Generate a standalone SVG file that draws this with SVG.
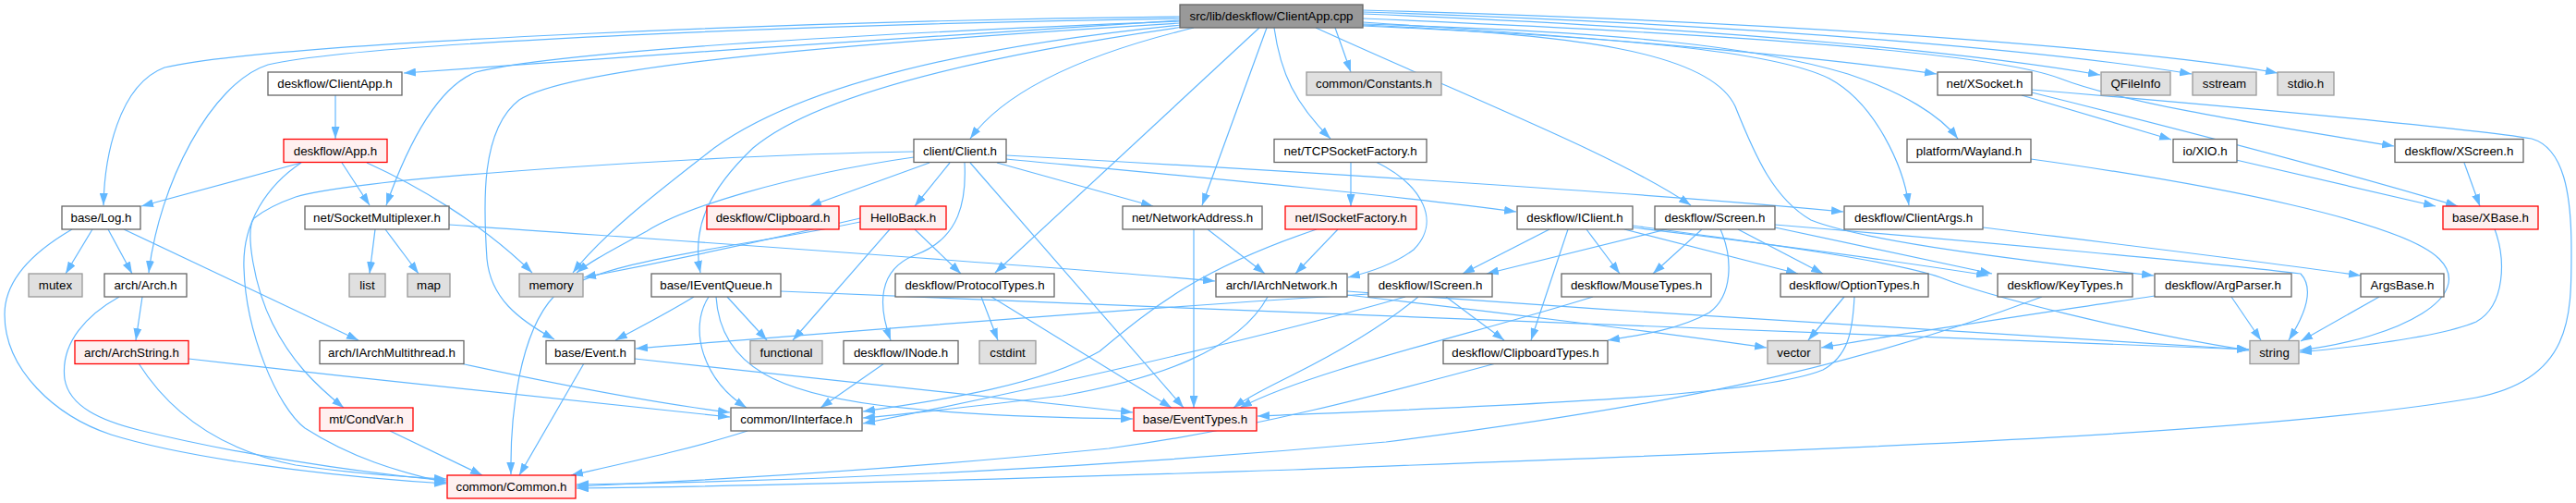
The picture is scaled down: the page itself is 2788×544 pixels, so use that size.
<svg xmlns="http://www.w3.org/2000/svg" width="2788" height="544" viewBox="0 0 2788 544">
<style>
rect{stroke-width:1.3}
.w{fill:#ffffff;stroke:#666666}
.r{fill:#fff0f0;stroke:#ff0000}
.g{fill:#e0e0e0;stroke:#999999}
.k{fill:#999999;stroke:#666666}
text{font-family:"Liberation Sans",Arial,Helvetica,sans-serif;font-size:13.33px;text-anchor:middle;fill:#000000}
#edges path{fill:none;stroke:#63b8ff;stroke-width:1.2;marker-end:url(#a)}
</style>
<defs>
<marker id="a" viewBox="0 0 13 9" refX="13" refY="4.5" markerWidth="13" markerHeight="9" orient="auto" markerUnits="userSpaceOnUse">
<path d="M0,0 L13,4.5 L0,9 z" fill="#63b8ff"/>
</marker>
</defs>
<rect width="2788" height="544" fill="#ffffff"/>
<g id="edges">
<path d="M1277,22 C1050,35 700,60 437,79"/>
<path d="M1277,18 C900,22 300,45 178,73 C128,92 113,170 112,222"/>
<path d="M1277,20 C900,26 400,45 290,70 C228,90 172,200 161,295"/>
<path d="M1277,23 C900,38 600,57 515,78 C472,95 440,160 418,222"/>
<path d="M1277,25 C900,48 620,72 562,108 C520,140 523,220 527,280 C531,322 560,345 600,367"/>
<path d="M1278,27 C1000,55 850,105 773,160 C722,200 655,250 620,295"/>
<path d="M1281,29 C1050,62 880,105 815,160 C768,205 748,245 758,295"/>
<path d="M1292,30 C1180,57 1090,95 1050,150"/>
<path d="M1363,30 L1077,295"/>
<path d="M1371,30 L1301,222"/>
<path d="M1379,30 C1386,80 1402,112 1440,150"/>
<path d="M1445,30 L1462,78"/>
<path d="M1424,30 C1600,110 1750,168 1830,222"/>
<path d="M1475,28 C1750,40 1920,55 1980,85 C2030,112 2060,180 2066,222"/>
<path d="M1475,26 C1750,34 1900,50 2000,80 C2060,100 2100,125 2119,150"/>
<path d="M1475,24 C1800,45 2000,66 2096,80"/>
<path d="M1475,15 C1900,32 2150,60 2273,81"/>
<path d="M1475,13 C1950,28 2250,60 2372,80"/>
<path d="M1475,11 C2000,25 2350,58 2465,79"/>
<path d="M1475,20 C1900,38 2160,58 2230,85 C2300,112 2450,135 2591,158"/>
<path d="M1475,27 C1700,37 1850,55 1878,115 C1900,170 1920,215 1960,238 C2020,262 2200,283 2331,298"/>
<path d="M363,103 L363,150"/>
<path d="M326,176 L153,223"/>
<path d="M370,176 L400,222"/>
<path d="M326,176 C290,200 262,240 264,290 C266,360 300,440 330,463 C380,495 430,510 483,522"/>
<path d="M397,176 C450,200 520,240 576,295"/>
<path d="M989,164 C800,167 400,190 320,213 C300,220 285,228 275,236 C265,250 275,310 295,350 C315,390 340,415 372,441"/>
<path d="M989,170 C850,190 740,225 700,250 C660,272 640,282 624,295"/>
<path d="M931,236 C850,255 720,283 632,300"/>
<path d="M931,240 C800,268 650,280 600,320 C562,360 552,450 553,513"/>
<path d="M963,248 L858,368"/>
<path d="M990,248 L1040,296"/>
<path d="M1006,176 L876,223"/>
<path d="M1028,176 L990,223"/>
<path d="M1044,176 C1046,215 1040,258 990,276 C950,292 950,330 964,368"/>
<path d="M1050,176 L1281,441"/>
<path d="M1079,176 L1248,223"/>
<path d="M1089,172 C1300,192 1500,210 1641,229"/>
<path d="M1089,168 C1400,185 1800,210 1995,229"/>
<path d="M486,243 C800,265 1100,285 1315,304"/>
<path d="M406,248 L400,296"/>
<path d="M417,248 L453,296"/>
<path d="M134,248 L388,368"/>
<path d="M100,248 L71,296"/>
<path d="M117,248 L143,296"/>
<path d="M78,248 C40,270 5,300 5,340 C5,400 60,450 120,470 C200,495 350,515 483,523"/>
<path d="M154,321 L147,368"/>
<path d="M129,321 C95,340 65,370 70,410 C75,440 110,455 150,465 C250,490 380,510 483,520"/>
<path d="M150,393 C180,440 230,485 320,503 C380,512 440,516 483,518"/>
<path d="M204,388 C400,410 600,432 790,451"/>
<path d="M498,393 C600,415 700,435 790,446"/>
<path d="M422,466 L522,514"/>
<path d="M632,393 L562,514"/>
<path d="M687,388 C900,410 1100,432 1226,446"/>
<path d="M809,466 C750,485 680,500 618,514"/>
<path d="M751,321 C720,340 690,355 666,368"/>
<path d="M767,321 C745,355 760,410 808,441"/>
<path d="M775,321 C780,400 850,425 950,438 C1050,450 1150,452 1226,453"/>
<path d="M787,321 L830,368"/>
<path d="M845,315 C1400,340 2100,362 2434,378"/>
<path d="M1062,321 L1080,368"/>
<path d="M1073,321 L1268,441"/>
<path d="M957,393 L888,441"/>
<path d="M1307,248 L1369,296"/>
<path d="M1292,248 L1292,441"/>
<path d="M1462,175 L1462,223"/>
<path d="M1489,175 C1540,200 1560,240 1530,270 C1510,285 1480,295 1459,300"/>
<path d="M1448,248 L1402,296"/>
<path d="M1425,248 C1300,290 1250,330 1190,380 C1120,420 1000,435 934,445"/>
<path d="M1372,321 C1340,380 1250,410 1150,428 C1050,440 980,448 934,452"/>
<path d="M1458,319 C1600,335 1800,360 1912,376"/>
<path d="M1458,315 C1800,340 2200,365 2434,378"/>
<path d="M1565,321 L1628,368"/>
<path d="M1535,321 C1500,350 1450,380 1400,405 C1370,420 1350,430 1335,441"/>
<path d="M1521,321 C1350,370 1100,425 934,458"/>
<path d="M1481,318 C1200,335 900,360 688,377"/>
<path d="M1724,321 C1600,360 1420,400 1342,441"/>
<path d="M2007,321 C2005,360 2000,385 1973,400 C1900,430 1600,440 1361,450"/>
<path d="M2210,321 C2000,400 1800,440 1500,478 C1200,505 900,520 624,524"/>
<path d="M2199,97 C2450,118 2680,140 2740,150 C2775,160 2783,210 2783,270 C2783,340 2785,410 2680,430 C2450,470 2000,485 1400,508 C1100,518 800,526 624,528"/>
<path d="M1619,393 C1500,425 1350,465 1200,485 C1000,505 800,518 624,526"/>
<path d="M2198,172 C2400,200 2600,240 2640,280 C2680,320 2600,365 2489,379"/>
<path d="M2700,248 C2712,280 2712,330 2680,348 C2640,365 2550,375 2489,381"/>
<path d="M2420,173 L2636,223"/>
<path d="M2667,176 L2684,223"/>
<path d="M2188,103 L2350,151"/>
<path d="M2199,100 C2400,150 2550,190 2660,223"/>
<path d="M2146,246 C2300,265 2450,283 2555,298"/>
<path d="M2575,321 L2490,369"/>
<path d="M2415,321 L2447,368"/>
<path d="M2332,320 C2200,340 2050,362 1971,376"/>
<path d="M1921,243 C2150,262 2400,285 2490,296 C2505,312 2495,340 2477,368"/>
<path d="M1767,244 C1900,262 2050,282 2100,300 C2150,320 2300,358 2434,379"/>
<path d="M1921,246 L2156,296"/>
<path d="M1767,246 C1900,262 2050,282 2152,298"/>
<path d="M1881,248 L1973,296"/>
<path d="M1758,248 L1946,296"/>
<path d="M1842,248 L1789,296"/>
<path d="M1717,248 L1753,296"/>
<path d="M1677,248 L1583,296"/>
<path d="M1804,248 L1609,296"/>
<path d="M1697,248 L1657,368"/>
<path d="M1862,248 C1876,280 1875,320 1850,338 C1820,355 1780,362 1740,368"/>
<path d="M1996,321 L1957,368"/>
</g>
<g id="n0"><rect class="k" x="1277" y="5" width="198" height="25"/><text x="1376" y="22">src/lib/deskflow/ClientApp.cpp</text></g>
<g id="n1"><rect class="w" x="290" y="78" width="145" height="25"/><text x="362.5" y="95">deskflow/ClientApp.h</text></g>
<g id="n2"><rect class="r" x="307" y="150.5" width="112" height="25"/><text x="363" y="167.5">deskflow/App.h</text></g>
<g id="n3"><rect class="w" x="67" y="223" width="85" height="25"/><text x="109.5" y="240">base/Log.h</text></g>
<g id="n4"><rect class="w" x="330" y="223" width="156" height="25"/><text x="408" y="240">net/SocketMultiplexer.h</text></g>
<g id="n5"><rect class="g" x="31" y="296" width="58" height="25"/><text x="60" y="313">mutex</text></g>
<g id="n6"><rect class="w" x="113" y="296" width="89" height="25"/><text x="157.5" y="313">arch/Arch.h</text></g>
<g id="n7"><rect class="g" x="378" y="296" width="39" height="25"/><text x="397.5" y="313">list</text></g>
<g id="n8"><rect class="g" x="441" y="296" width="46" height="25"/><text x="464" y="313">map</text></g>
<g id="n9"><rect class="g" x="562" y="296" width="69" height="25"/><text x="596.5" y="313">memory</text></g>
<g id="n10"><rect class="r" x="81" y="368.5" width="123" height="25"/><text x="142.5" y="385.5">arch/ArchString.h</text></g>
<g id="n11"><rect class="w" x="346" y="368.5" width="156" height="25"/><text x="424" y="385.5">arch/IArchMultithread.h</text></g>
<g id="n12"><rect class="w" x="591" y="368.5" width="96" height="25"/><text x="639" y="385.5">base/Event.h</text></g>
<g id="n13"><rect class="r" x="346" y="441" width="101" height="25"/><text x="396.5" y="458">mt/CondVar.h</text></g>
<g id="n14"><rect class="r" x="484" y="514" width="139" height="25"/><text x="553.5" y="531">common/Common.h</text></g>
<g id="n15"><rect class="w" x="989" y="150.5" width="100" height="25"/><text x="1039" y="167.5">client/Client.h</text></g>
<g id="n16"><rect class="r" x="765" y="223" width="143" height="25"/><text x="836.5" y="240">deskflow/Clipboard.h</text></g>
<g id="n17"><rect class="r" x="931" y="223" width="93" height="25"/><text x="977.5" y="240">HelloBack.h</text></g>
<g id="n18"><rect class="w" x="1215" y="223" width="151" height="25"/><text x="1290.5" y="240">net/NetworkAddress.h</text></g>
<g id="n19"><rect class="w" x="1379" y="150.5" width="165" height="25"/><text x="1461.5" y="167.5">net/TCPSocketFactory.h</text></g>
<g id="n20"><rect class="r" x="1391" y="223" width="142" height="25"/><text x="1462" y="240">net/ISocketFactory.h</text></g>
<g id="n21"><rect class="w" x="705" y="296" width="140" height="25"/><text x="775" y="313">base/IEventQueue.h</text></g>
<g id="n22"><rect class="w" x="969" y="296" width="172" height="25"/><text x="1055" y="313">deskflow/ProtocolTypes.h</text></g>
<g id="n23"><rect class="w" x="1316" y="296" width="142" height="25"/><text x="1387" y="313">arch/IArchNetwork.h</text></g>
<g id="n24"><rect class="g" x="812" y="368.5" width="78" height="25"/><text x="851" y="385.5">functional</text></g>
<g id="n25"><rect class="w" x="913" y="368.5" width="124" height="25"/><text x="975" y="385.5">deskflow/INode.h</text></g>
<g id="n26"><rect class="g" x="1060" y="368.5" width="61" height="25"/><text x="1090.5" y="385.5">cstdint</text></g>
<g id="n27"><rect class="w" x="791" y="441" width="142" height="25"/><text x="862" y="458">common/IInterface.h</text></g>
<g id="n28"><rect class="r" x="1227" y="441" width="133" height="25"/><text x="1293.5" y="458">base/EventTypes.h</text></g>
<g id="n29"><rect class="g" x="1414" y="78" width="146" height="25"/><text x="1487" y="95">common/Constants.h</text></g>
<g id="n30"><rect class="w" x="1642" y="223" width="125" height="25"/><text x="1704.5" y="240">deskflow/IClient.h</text></g>
<g id="n31"><rect class="w" x="1791" y="223" width="130" height="25"/><text x="1856" y="240">deskflow/Screen.h</text></g>
<g id="n32"><rect class="w" x="1996" y="223" width="150" height="25"/><text x="2071" y="240">deskflow/ClientArgs.h</text></g>
<g id="n33"><rect class="w" x="2064" y="150.5" width="134" height="25"/><text x="2131" y="167.5">platform/Wayland.h</text></g>
<g id="n34"><rect class="w" x="2097" y="78" width="102" height="25"/><text x="2148" y="95">net/XSocket.h</text></g>
<g id="n35"><rect class="w" x="1481" y="296" width="134" height="25"/><text x="1548" y="313">deskflow/IScreen.h</text></g>
<g id="n36"><rect class="w" x="1690" y="296" width="162" height="25"/><text x="1771" y="313">deskflow/MouseTypes.h</text></g>
<g id="n37"><rect class="w" x="1927" y="296" width="160" height="25"/><text x="2007" y="313">deskflow/OptionTypes.h</text></g>
<g id="n38"><rect class="w" x="1562" y="368.5" width="178" height="25"/><text x="1651" y="385.5">deskflow/ClipboardTypes.h</text></g>
<g id="n39"><rect class="g" x="1913" y="368.5" width="57" height="25"/><text x="1941.5" y="385.5">vector</text></g>
<g id="n40"><rect class="g" x="2274" y="78" width="75" height="25"/><text x="2311.5" y="95">QFileInfo</text></g>
<g id="n41"><rect class="g" x="2373" y="78" width="69" height="25"/><text x="2407.5" y="95">sstream</text></g>
<g id="n42"><rect class="g" x="2465" y="78" width="61" height="25"/><text x="2495.5" y="95">stdio.h</text></g>
<g id="n43"><rect class="w" x="2352" y="150.5" width="69" height="25"/><text x="2386.5" y="167.5">io/XIO.h</text></g>
<g id="n44"><rect class="w" x="2592" y="150.5" width="139" height="25"/><text x="2661.5" y="167.5">deskflow/XScreen.h</text></g>
<g id="n45"><rect class="r" x="2644" y="223" width="103" height="25"/><text x="2695.5" y="240">base/XBase.h</text></g>
<g id="n46"><rect class="w" x="2162" y="296" width="146" height="25"/><text x="2235" y="313">deskflow/KeyTypes.h</text></g>
<g id="n47"><rect class="w" x="2332" y="296" width="148" height="25"/><text x="2406" y="313">deskflow/ArgParser.h</text></g>
<g id="n48"><rect class="w" x="2555" y="296" width="90" height="25"/><text x="2600" y="313">ArgsBase.h</text></g>
<g id="n49"><rect class="g" x="2435" y="368.5" width="53" height="25"/><text x="2461.5" y="385.5">string</text></g>
</svg>
